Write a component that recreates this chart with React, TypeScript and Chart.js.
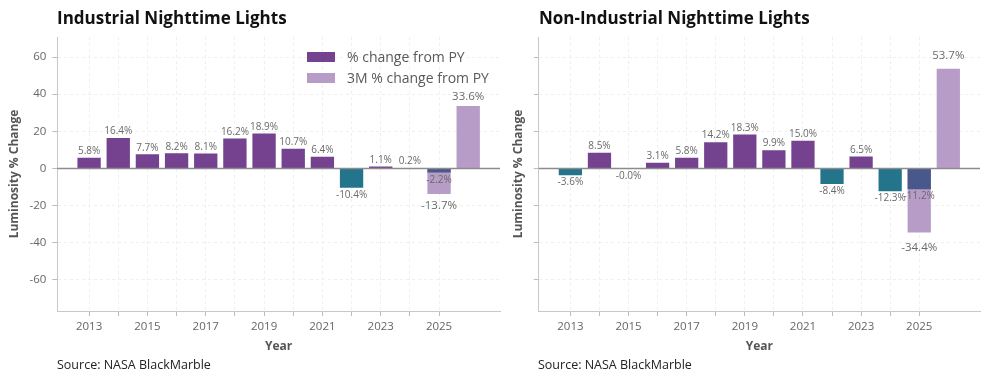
import React, { useEffect, useRef } from "react";
import { Chart, registerables } from "chart.js";

Chart.register(...registerables);

// ---------- data ----------
const YEARS = [2013, 2014, 2015, 2016, 2017, 2018, 2019, 2020, 2021, 2022, 2023, 2024, 2025];
const INDUSTRIAL_PY = [5.8, 16.4, 7.7, 8.2, 8.1, 16.2, 18.9, 10.7, 6.4, -10.4, 1.1, 0.2, -2.2];
const NON_INDUSTRIAL_PY = [-3.6, 8.5, -0.02, 3.1, 5.8, 14.2, 18.3, 9.9, 15.0, -8.4, 6.5, -12.3, -11.2];
const M3_YEARS = [2025, 2026];
const INDUSTRIAL_3M = [-13.7, 33.6];
const NON_INDUSTRIAL_3M = [-34.4, 53.7];
const PARTIAL_YEAR = 2025;
const Y_TICKS = [-60, -40, -20, 0, 20, 40, 60];
const X_TICKS = [2013, 2014, 2015, 2016, 2017, 2018, 2019, 2020, 2021, 2022, 2023, 2024, 2025];
const X_MIN = 2011.91;
const X_MAX = 2027.09;
const Y_MIN = -76.7;
const Y_MAX = 70.8;

const SERIES_PY = "% change from PY";
const SERIES_3M = "3M % change from PY";

// ---------- style ----------
const FONT = "'Open Sans', 'Noto Sans', sans-serif";
const PURPLE = "#74428f";
const LIGHT_PURPLE = "#b89cc8";
const TEAL = "#24748b";
const DARK_BLUE = "#48588a";
const GRID = "#efefef";
const SPINE = "#c8c8c8";
const TICK_TEXT = "#666666";
const AXIS_TITLE = "#555555";
const LABEL_TEXT = "#6a6a6a";

Chart.defaults.font.family = FONT;

function pyColor(year: number, v: number) {
  if (year === PARTIAL_YEAR) return DARK_BLUE;
  return v < 0 ? TEAL : PURPLE;
}

const labelPlugin = {
  id: "barLabels",
  afterDatasetsDraw(chart: any) {
    const ctx = chart.ctx;
    const ys = chart.scales.y;
    const area = chart.chartArea;
    ctx.save();
    // zero line
    const y0 = ys.getPixelForValue(0);
    ctx.strokeStyle = "#8c8c8c";
    ctx.lineWidth = 1.5;
    ctx.beginPath();
    ctx.moveTo(area.left, y0);
    ctx.lineTo(area.right, y0);
    ctx.stroke();

    ctx.textAlign = "center";
    ctx.textBaseline = "alphabetic";
    ctx.fillStyle = LABEL_TEXT;
    const order = [1, 0];
    order.forEach((di) => {
      const ds = chart.data.datasets[di];
      const meta = chart.getDatasetMeta(di);
      const is3m = ds.label === SERIES_3M;
      ctx.font = `${is3m ? 11.5 : 10}px ${FONT}`;
      meta.data.forEach((bar: any, i: number) => {
        const v = ds.data[i].y;
        const txt = `${v.toFixed(1)}%`;
        let y: number;
        if (is3m) {
          const p = ys.getPixelForValue(v * 1.1);
          y = v >= 0 ? p : p + 12;
        } else {
          const p = ys.getPixelForValue(v);
          y = v >= 0 ? p - 3.7 : p + 10;
        }
        ctx.fillText(txt, bar.x, y);
      });
    });
    ctx.restore();
  },
};

function makeConfig(py: number[], m3: number[], yAxisWidth: number, yTitlePad: number, showYLabels: boolean, padRight: number) {
  return {
    type: "bar",
    data: {
      datasets: [
        {
          label: SERIES_PY,
          data: YEARS.map((x, i) => ({ x, y: py[i] })),
          backgroundColor: YEARS.map((x, i) => pyColor(x, py[i])),
          grouped: false,
          barPercentage: 0.8,
          categoryPercentage: 1,
          borderWidth: 0,
        },
        {
          label: SERIES_3M,
          data: M3_YEARS.map((x, i) => ({ x, y: m3[i] })),
          backgroundColor: LIGHT_PURPLE,
          grouped: false,
          barPercentage: 0.8,
          categoryPercentage: 1,
          borderWidth: 0,
        },
      ],
    },
    options: {
      animation: false,
      responsive: false,
      maintainAspectRatio: false,
      layout: { padding: { top: 37, right: padRight, left: 0, bottom: 0 } },
      plugins: {
        legend: { display: false },
        tooltip: { enabled: false },
        title: { display: false },
      },
      scales: {
        x: {
          type: "linear",
          min: X_MIN,
          max: X_MAX,
          offset: false,
          afterBuildTicks: (s: any) => {
            s.ticks = X_TICKS.map((v) => ({ value: v }));
          },
          afterFit: (s: any) => {
            s.height = 49;
          },
          ticks: {
            autoSkip: false,
            maxRotation: 0,
            color: TICK_TEXT,
            padding: 4,
            font: { size: 11.5, family: FONT },
            callback: (v: number) => (Math.round(v) % 2 === 1 ? String(Math.round(v)) : ""),
          },
          grid: {
            offset: false,
            color: GRID,
            lineWidth: 1,
            drawTicks: true,
            tickLength: 5,
            tickColor: "#bdbdbd",
            tickWidth: 1,
          },
          border: { display: true, color: SPINE, width: 1, dash: [3, 3] },
          title: {
            display: true,
            text: "Year",
            color: AXIS_TITLE,
            font: { size: 12, weight: "bold", family: FONT },
            padding: { top: 0, bottom: 6 },
          },
        },
        y: {
          type: "linear",
          min: Y_MIN,
          max: Y_MAX,
          afterBuildTicks: (s: any) => {
            s.ticks = Y_TICKS.map((v) => ({ value: v }));
          },
          afterFit: (s: any) => {
            s.width = yAxisWidth;
          },
          ticks: {
            color: TICK_TEXT,
            padding: 6,
            font: { size: 11.5, family: FONT },
            callback: (v: number) => (showYLabels ? String(v) : ""),
          },
          grid: {
            color: GRID,
            lineWidth: 1,
            drawTicks: true,
            tickLength: 5,
            tickColor: "#bdbdbd",
            tickWidth: 1,
          },
          border: { display: true, color: SPINE, width: 1, dash: [3, 3] },
          title: {
            display: true,
            text: "Luminosity % Change",
            color: AXIS_TITLE,
            font: { size: 12, weight: "bold", family: FONT },
            padding: { top: yTitlePad, bottom: 0 },
          },
        },
      },
    },
    plugins: [labelPlugin],
  } as any;
}

function Panel(props: { left: number; width: number; py: number[]; m3: number[]; yAxisWidth: number; yTitlePad: number; showYLabels: boolean; padRight: number }) {
  const ref = useRef<HTMLCanvasElement | null>(null);
  useEffect(() => {
    if (!ref.current) return;
    const chart = new Chart(ref.current, makeConfig(props.py, props.m3, props.yAxisWidth, props.yTitlePad, props.showYLabels, props.padRight));
    return () => chart.destroy();
  }, []);
  return (
    <canvas
      ref={ref}
      width={props.width}
      height={360}
      style={{ position: "absolute", left: props.left, top: 0, width: props.width, height: 360 }}
    />
  );
}

const titleStyle: React.CSSProperties = {
  position: "absolute",
  top: 6,
  fontFamily: FONT,
  fontWeight: 700,
  fontSize: 17,
  color: "#111",
  whiteSpace: "nowrap",
  lineHeight: "normal",
};

const sourceStyle: React.CSSProperties = {
  position: "absolute",
  top: 356,
  fontFamily: FONT,
  fontSize: 12.5,
  color: "#222",
  whiteSpace: "nowrap",
  lineHeight: "normal",
};

const legendText: React.CSSProperties = {
  position: "absolute",
  left: 347,
  fontFamily: FONT,
  fontSize: 14,
  color: "#595959",
  whiteSpace: "nowrap",
  lineHeight: "20px",
};

export default function App() {
  return (
    <div style={{ position: "fixed", left: 0, top: 0, width: 989, height: 383, background: "#fff", overflow: "hidden" }}>
      <Panel left={0} width={502} py={INDUSTRIAL_PY} m3={INDUSTRIAL_3M} yAxisWidth={57.3} yTitlePad={7.8} showYLabels={true} padRight={2} />
      <Panel left={500} width={483} py={NON_INDUSTRIAL_PY} m3={NON_INDUSTRIAL_3M} yAxisWidth={38.7} yTitlePad={11.8} showYLabels={false} padRight={3} />
      <div style={{ ...titleStyle, left: 57 }}>Industrial Nighttime Lights</div>
      <div style={{ ...titleStyle, left: 539 }}>Non-Industrial Nighttime Lights</div>
      <div style={{ ...sourceStyle, left: 57 }}>Source: NASA BlackMarble</div>
      <div style={{ ...sourceStyle, left: 538 }}>Source: NASA BlackMarble</div>
      <div style={{ position: "absolute", left: 307, top: 52, width: 28, height: 10, background: PURPLE }} />
      <div style={{ ...legendText, top: 46.5 }}>{SERIES_PY}</div>
      <div style={{ position: "absolute", left: 307, top: 73, width: 28, height: 10, background: LIGHT_PURPLE }} />
      <div style={{ ...legendText, top: 68 }}>{SERIES_3M}</div>
    </div>
  );
}
